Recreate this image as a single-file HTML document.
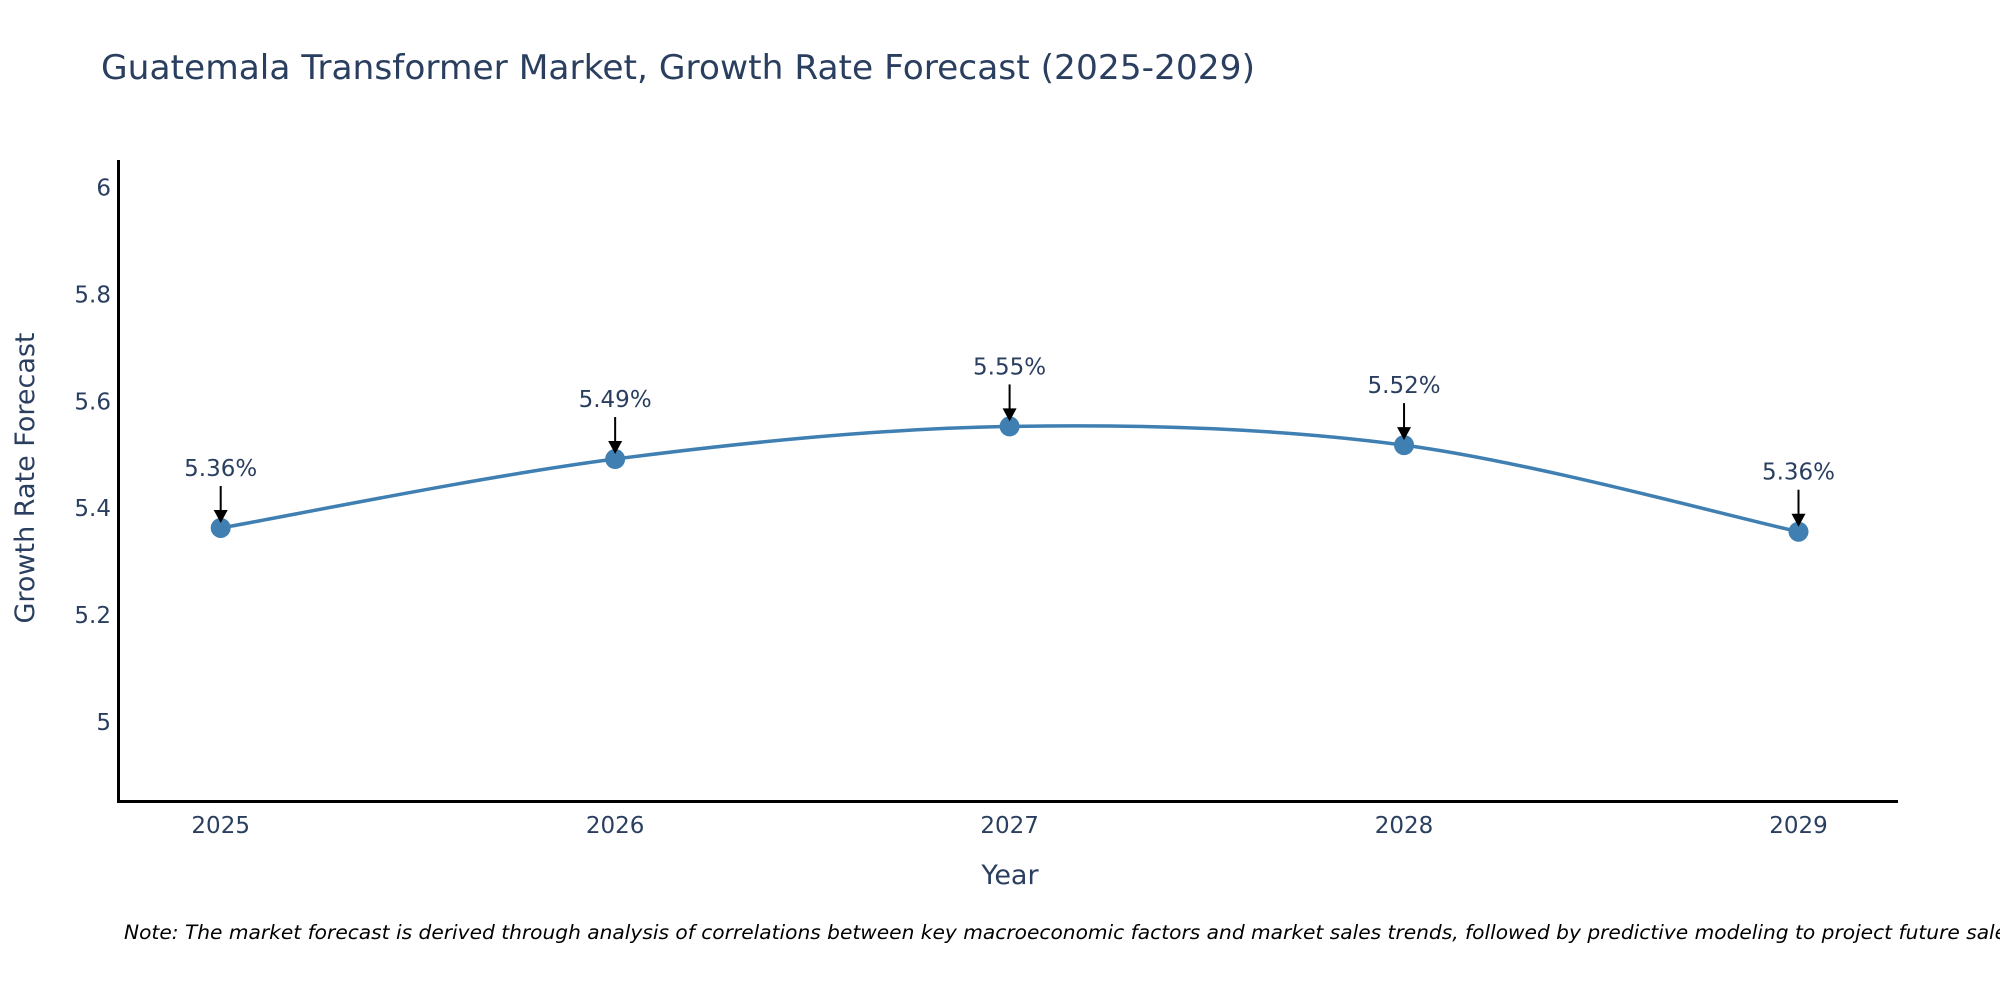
<!DOCTYPE html>
<html><head><meta charset="utf-8"><style>
body{margin:0;background:#fff}
text{font-family:"DejaVu Sans","Liberation Sans",sans-serif;fill:#2a3f5f}
</style></head><body>
<svg id="chart" width="2000" height="1000" viewBox="0 0 2000 1000" xmlns="http://www.w3.org/2000/svg">
<text x="101" y="79" font-size="34" textLength="1154" lengthAdjust="spacingAndGlyphs">Guatemala Transformer Market, Growth Rate Forecast (2025-2029)</text>
<g id="yticks"></g>
<g id="xticks"></g>
<path id="line" fill="none" stroke="#3f7fb2" stroke-width="3.5"/>
<g id="marks"></g>
<g id="anns"></g>
<line x1="118.5" y1="160" x2="118.5" y2="802" stroke="#000" stroke-width="3"/>
<line x1="117" y1="801.5" x2="1898" y2="801.5" stroke="#000" stroke-width="3"/>
<text x="1010" y="884" font-size="27" text-anchor="middle">Year</text>
<text transform="translate(34,478) rotate(-90)" font-size="27" text-anchor="middle">Growth Rate Forecast</text>
<text x="124" y="939" font-size="19.5" font-style="italic" style="fill:#000" textLength="1900" lengthAdjust="spacingAndGlyphs">Note: The market forecast is derived through analysis of correlations between key macroeconomic factors and market sales trends, followed by predictive modeling to project future sales.</text>
</svg>
<script>
const years=[2025,2026,2027,2028,2029];
const values=[5.363,5.492,5.553,5.518,5.356];
const labels=["5.36%","5.49%","5.55%","5.52%","5.36%"];
const yTicks=[5,5.2,5.4,5.6,5.8,6];
const yTickLabels=["5","5.2","5.4","5.6","5.8","6"];
const NS="http://www.w3.org/2000/svg";
const X=v=>220.7+(v-2025)*(1798.5-220.7)/4;
const Y=v=>722-(v-5)*534.5;
function mk(t,a,p){const e=document.createElementNS(NS,t);for(const k in a)e.setAttribute(k,a[k]);p.appendChild(e);return e;}
const yt=document.getElementById('yticks');
yTicks.forEach((v,i)=>{const t=mk('text',{x:111,y:Y(v)+8,'font-size':23,'text-anchor':'end'},yt);


t.textContent=yTickLabels[i];});
const xt=document.getElementById('xticks');
years.forEach(v=>{const t=mk('text',{x:X(v),y:833,'font-size':23,'text-anchor':'middle'},xt);


t.textContent=v;});
const pts=years.map((y,i)=>[X(y),Y(values[i])]);
let d=`M${pts[0][0]},${pts[0][1]}`;const s=0.33;
for(let i=0;i<pts.length-1;i++){const p0=pts[i-1]||pts[i],p1=pts[i],p2=pts[i+1],p3=pts[i+2]||p2;
const c1=[p1[0]+(p2[0]-p0[0])*s/2,p1[1]+(p2[1]-p0[1])*s/2];
const c2=[p2[0]-(p3[0]-p1[0])*s/2,p2[1]-(p3[1]-p1[1])*s/2];
d+=` C${c1[0]},${c1[1]} ${c2[0]},${c2[1]} ${p2[0]},${p2[1]}`;}
document.getElementById('line').setAttribute('d',d);
const mg=document.getElementById('marks'),ag=document.getElementById('anns');
pts.forEach((p,i)=>{const c=mk('circle',{cx:p[0],cy:p[1],r:10,fill:'#3f7fb2'},mg);


const l=mk('line',{x1:p[0],y1:p[1]-42,x2:p[0],y2:p[1]-16,stroke:'#000','stroke-width':2},ag);


const h=mk('path',{d:`M${p[0]-7},${p[1]-18} L${p[0]+7},${p[1]-18} L${p[0]},${p[1]-5} Z`,fill:'#000'},ag);


const t=mk('text',{x:p[0],y:p[1]-52,'font-size':23,'text-anchor':'middle'},ag);


t.textContent=labels[i];});
</script>
</body></html>
